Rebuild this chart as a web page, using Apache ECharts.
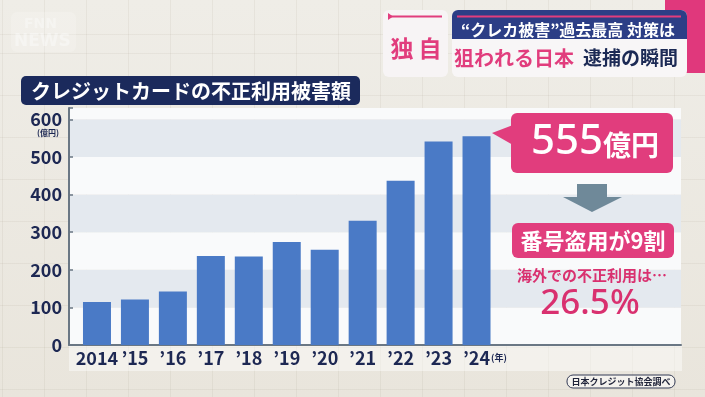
<!DOCTYPE html>
<html>
<head>
<meta charset="utf-8">
<script src="https://cdn.jsdelivr.net/npm/echarts@6/dist/echarts.min.js"></script>
<style>
html,body{margin:0;padding:0;}
#c{width:705px;height:397px;
 background-color:#ebe8e0;
 background-image:
  repeating-linear-gradient(90deg, rgba(150,140,120,0.10) 0px, rgba(150,140,120,0.10) 1px, transparent 1px, transparent 42px),
  repeating-linear-gradient(0deg, rgba(150,140,120,0.10) 0px, rgba(150,140,120,0.10) 1px, transparent 1px, transparent 42px),
  linear-gradient(180deg,#efede7 0%,#e9e5dc 100%);
 background-position: 2px 0, 0 35px, 0 0;
}
</style>
</head>
<body>
<div id="c"></div>
<script>
// ---- data ----
const years = ['2014', '’15', '’16', '’17', '’18', '’19', '’20', '’21', '’22', '’23', '’24'];
const damage = [114.5, 120.9, 142.0, 236.4, 235.4, 274.1, 253.0, 330.1, 436.7, 540.9, 555.0];
const yTicks = [0, 100, 200, 300, 400, 500, 600];
const title = 'クレジットカードの不正利用被害額';
const yUnit = '(億円)';
const xUnit = '(年)';
const callout = '555';
const calloutUnit = '億円';
const note1 = '番号盗用が9割';
const note2 = '海外での不正利用は…';
const note3 = '26.5%';
const source = '日本クレジット協会調べ';

const FONT = '"Noto Sans CJK JP", "Noto Sans", sans-serif';
const NAVY = '#1d2853';
const PINK = '#e13d7d';
const PINK_T = '#d9306f';
const AXIS = '#6a7784';

const chart = echarts.init(document.getElementById('c'), null, {renderer: 'canvas'});

const option = {
  animation: false,
  textStyle: {fontFamily: FONT},
  grid: [
    {left: 69, top: 108, width: 612, height: 237},
    {left: 78, top: 108, width: 417.5, height: 237}
  ],
  xAxis: [
    {gridIndex: 0, type: 'value', min: 0, max: 1,
     axisLine: {show: true, lineStyle: {color: AXIS, width: 2}},
     axisTick: {show: false}, axisLabel: {show: false}, splitLine: {show: false}},
    {gridIndex: 1, type: 'category', data: years,
     axisLine: {show: false}, axisTick: {show: false},
     axisLabel: {color: NAVY, fontSize: 18, fontWeight: 'bold', fontFamily: FONT, margin: 4, interval: 0}}
  ],
  yAxis: [
    {gridIndex: 0, type: 'value', min: 0, max: 630, interval: 100,
     axisLine: {show: true, lineStyle: {color: AXIS, width: 2}},
     axisTick: {show: true, inside: true, length: 4, lineStyle: {color: AXIS, width: 1.5}},
     axisLabel: {color: NAVY, fontSize: 18, fontWeight: 'bold', fontFamily: FONT, margin: 7,
       formatter: v => yTicks.indexOf(v) >= 0 ? String(v) : ''},
     splitLine: {show: false},
     splitArea: {show: true, areaStyle: {color: ['#f9fafb', '#e4e9ef']}}},
    {gridIndex: 1, type: 'value', min: 0, max: 630, interval: 100, show: false}
  ],
  series: [{
    type: 'bar', xAxisIndex: 1, yAxisIndex: 1, data: damage, barWidth: 28,
    itemStyle: {color: '#4a7ac6'}
  }],
  graphic: [
    // panel strip below axis
    {type: 'rect', z: -10, shape: {x: 69, y: 346, width: 613, height: 25}, style: {fill: 'rgba(255,255,255,0.45)'}},
    // faint logo
    {type: 'rect', z: 4, shape: {x: 11, y: 12, width: 65, height: 40, r: 6}, style: {fill: 'rgba(255,255,255,0.18)'}},
    {type: 'text', z: 5, left: 14, top: 33, style: {text: 'NEWS', fontSize: 17, fontWeight: 'bold', fontFamily: 'DejaVu Sans', fill: 'rgba(255,255,255,0.35)'}},
    {type: 'text', z: 5, left: 24, top: 17, style: {text: 'FNN', fontSize: 14, fontWeight: 'bold', fontFamily: 'DejaVu Sans', fill: 'rgba(255,255,255,0.3)'}},
    // title box
    {type: 'rect', z: 10, shape: {x: 21, y: 76, width: 339, height: 29, r: 5}, style: {fill: '#1b2a5c'}},
    {type: 'text', z: 11, x: 191, y: 91, style: {text: title, fontSize: 20, fontWeight: 'bold', fontFamily: FONT, fill: '#ffffff', align: 'center', verticalAlign: 'middle'}},
    // y unit
    {type: 'text', z: 11, x: 48, y: 133, style: {text: yUnit, fontSize: 8, fontWeight: 'bold', fontFamily: FONT, fill: NAVY, align: 'center', verticalAlign: 'middle'}},
    // x unit
    {type: 'text', z: 11, x: 499, y: 358, style: {text: xUnit, fontSize: 9, fontWeight: 'bold', fontFamily: FONT, fill: NAVY, align: 'center', verticalAlign: 'middle'}},
    // top right pink corner
    {type: 'rect', z: 8, shape: {x: 665, y: 0, width: 40, height: 73}, style: {fill: '#e0387c'}},
    // 独自 box
    {type: 'rect', z: 10, shape: {x: 383, y: 10, width: 65, height: 67, r: 6}, style: {fill: '#f7f4f5'}},
    {type: 'rect', z: 11, shape: {x: 390, y: 15.5, width: 52, height: 2}, style: {fill: PINK}},
    {type: 'polygon', z: 11, shape: {points: [[388, 13], [393, 16.5], [388, 20]]}, style: {fill: PINK}},
    {type: 'text', z: 11, x: 402, y: 48, style: {text: '独', fontSize: 23, fontWeight: 'bold', fontFamily: FONT, fill: PINK, align: 'center', verticalAlign: 'middle'}},
    {type: 'text', z: 11, x: 430, y: 48, style: {text: '自', fontSize: 23, fontWeight: 'bold', fontFamily: FONT, fill: PINK, align: 'center', verticalAlign: 'middle'}},
    // headline box
    {type: 'rect', z: 10, shape: {x: 452, y: 10, width: 235, height: 67, r: 6}, style: {fill: '#f8f6f7'}},
    {type: 'rect', z: 11, shape: {x: 452, y: 10, width: 235, height: 29, r: [6, 6, 0, 0]}, style: {fill: '#2c3e86'}},
    {type: 'rect', z: 12, shape: {x: 457, y: 15.5, width: 224, height: 2}, style: {fill: PINK}},
    {type: 'text', z: 12, x: 461, y: 30, style: {text: '“クレカ被害”過去最高 対策は', fontSize: 16, fontWeight: 'bold', fontFamily: FONT, fill: '#ffffff', align: 'left', verticalAlign: 'middle'}},
    {type: 'text', z: 12, x: 454, y: 58, style: {text: '狙われる日本', fontSize: 20, fontWeight: 'bold', fontFamily: FONT, fill: PINK, align: 'left', verticalAlign: 'middle'}},
    {type: 'text', z: 12, x: 583, y: 58, style: {text: '逮捕の瞬間', fontSize: 19, fontWeight: 'bold', fontFamily: FONT, fill: '#1c2a55', align: 'left', verticalAlign: 'middle'}},
    // callout 555
    {type: 'polygon', z: 10, shape: {points: [[513, 125], [492, 133], [513, 145]]}, style: {fill: PINK}},
    {type: 'rect', z: 10, shape: {x: 511, y: 113, width: 162, height: 60, r: 6}, style: {fill: PINK}},
    {type: 'text', z: 11, x: 595, y: 142, style: {
      text: '{a|' + callout + '}{b|' + calloutUnit + '}', align: 'center', verticalAlign: 'middle',
      rich: {a: {fontSize: 42, fontFamily: '"Noto Sans", sans-serif', fill: '#ffffff', fontWeight: 500},
             b: {fontSize: 28, fontFamily: FONT, fill: '#ffffff', fontWeight: 'bold', padding: [7, 0, 0, 0]}}}},
    // arrow
    {type: 'polygon', z: 10, shape: {points: [[577, 184], [607, 184], [607, 197], [622, 197], [592, 212], [563, 197], [577, 197]]}, style: {fill: '#6f8999'}},
    // note box
    {type: 'rect', z: 10, shape: {x: 512, y: 223, width: 162, height: 35, r: 6}, style: {fill: PINK}},
    {type: 'text', z: 11, x: 593, y: 241, style: {text: note1, fontSize: 22, fontWeight: 'bold', fontFamily: FONT, fill: '#ffffff', align: 'center', verticalAlign: 'middle'}},
    {type: 'text', z: 11, x: 592, y: 275, style: {text: note2, fontSize: 15, fontWeight: 'bold', fontFamily: FONT, fill: PINK_T, align: 'center', verticalAlign: 'middle'}},
    {type: 'text', z: 11, x: 590, y: 304, style: {text: note3, fontSize: 35, fontWeight: 500, fontFamily: '"Noto Sans", sans-serif', fill: PINK_T, align: 'center', verticalAlign: 'middle'}},
    // source
    {type: 'rect', z: 10, shape: {x: 567, y: 375, width: 108, height: 13, r: 6}, style: {fill: 'rgba(255,255,255,0.5)', stroke: '#333a55', lineWidth: 1}},
    {type: 'text', z: 11, x: 621, y: 381.5, style: {text: source, fontSize: 9, fontWeight: 'bold', fontFamily: FONT, fill: '#1e2238', align: 'center', verticalAlign: 'middle'}}
  ]
};
chart.setOption(option);
</script>
</body>
</html>
